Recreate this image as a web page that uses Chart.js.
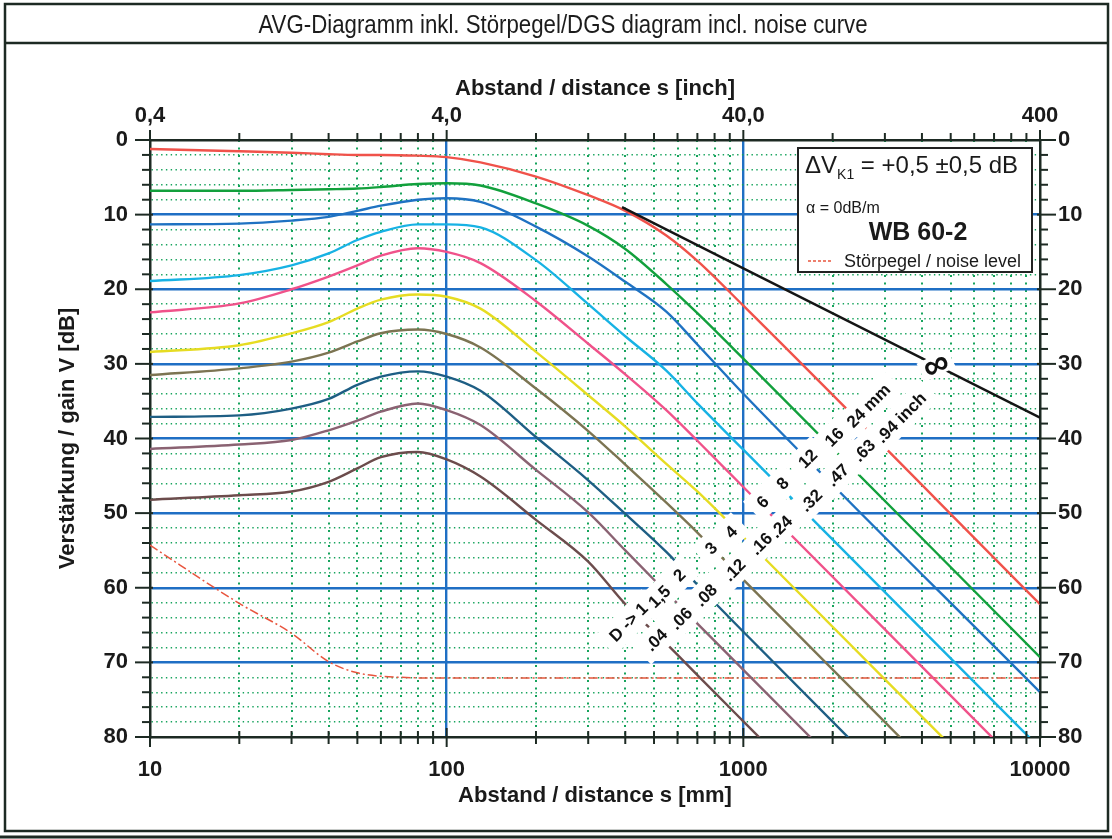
<!DOCTYPE html>
<html>
<head>
<meta charset="utf-8">
<title>AVG-Diagramm WB 60-2</title>
<script src="https://cdn.jsdelivr.net/npm/chart.js@4.4.1/dist/chart.umd.min.js"></script>
<style>
  html, body { margin: 0; padding: 0; background: #fff; }
  #wrap { width: 1112px; height: 839px; }
</style>
</head>
<body>
<div id="wrap"><canvas id="dgsChart" width="1112" height="839"></canvas></div>
<script>
const distances = [10, 20, 30, 40, 50, 60, 80, 100, 130, 200, 300, 400, 550, 700, 1000, 10000];

// gain V [dB] for each disc reflector diameter D
const gainD24 = [1.2, 1.5, 1.7, 1.9, 2.0, 2.0, 2.1, 2.3, 3.0, 4.9, 7.4, 9.5, 12.8, 16.2, 22.2, 62.2];
const gainD16 = [6.8, 6.8, 6.7, 6.6, 6.5, 6.3, 5.9, 5.8, 6.1, 8.5, 11.5, 14.6, 19.3, 23.2, 29.3, 69.3];
const gainD12 = [11.3, 11.2, 10.8, 10.3, 9.5, 8.8, 8.0, 7.8, 8.3, 11.6, 15.6, 19.0, 23.0, 27.4, 34.0, 74.0];
const gainD8 = [18.9, 18.1, 16.8, 15.2, 13.4, 12.3, 11.3, 11.3, 11.7, 16.1, 22.0, 26.3, 30.9, 35.3, 41.5, 81.5];
const gainD6 = [23.1, 21.9, 20.0, 18.3, 16.8, 15.5, 14.5, 15.0, 16.5, 21.6, 27.3, 31.4, 36.2, 40.3, 46.5, 86.5];
const gainD4 = [28.4, 27.5, 25.9, 24.4, 22.6, 21.4, 20.7, 21.0, 22.6, 28.4, 34.2, 38.4, 43.4, 47.1, 53.2, 93.2];
const gainD3 = [31.5, 30.6, 29.7, 28.5, 27.0, 25.9, 25.4, 26.0, 27.8, 33.3, 39.0, 43.5, 48.6, 52.6, 58.9, 98.9];
const gainD2 = [37.1, 36.9, 36.0, 34.7, 32.8, 31.7, 31.0, 31.7, 33.6, 39.8, 45.6, 50.1, 55.2, 59.6, 65.9, 105.9];
const gainD1_5 = [41.4, 40.8, 40.2, 38.9, 37.6, 36.4, 35.3, 36.2, 38.2, 44.2, 49.9, 55.0, 60.6, 64.8, 71.0, 111.0];
const gainD1 = [48.2, 47.6, 47.1, 45.8, 44.0, 42.5, 41.8, 42.8, 45.1, 50.9, 56.5, 62.2, 67.5, 71.7, 77.9, 117.9];

// back wall echo (D = infinity)
const backwallDist = [390, 1000, 10000];
const backwallGain = [9.0, 17.2, 37.2];

// noise level
const noiseDist = [10, 20, 30, 40, 50, 70, 100, 10000];
const noiseGain = [54.3, 62.1, 66.1, 69.9, 71.4, 72.0, 72.1, 72.1];

// axes
const mmLabelTicks = [10, 100, 1000, 10000];
const inchTickLabels = ["0,4", "4,0", "40,0", "400"];
const gainLabelTicks = [0, 10, 20, 30, 40, 50, 60, 70, 80];

// curve labels (text, anchor distance mm, anchor gain dB)
const diaMmText = ["D -> 1", "1,5", "2", "3", "4", "6", "8", "12", "16", "24 mm"];
const diaMmDist = [410, 521, 609, 778, 909, 1161, 1356, 1647, 2025, 2640];
const diaMmGain = [64.6, 61.2, 58.3, 54.7, 52.5, 48.5, 46.0, 42.7, 39.8, 35.6];
const diaInchText = [".04", ".06", ".08", ".12", ".16", ".24", ".32", ".47", ".63", ".94 inch"];
const diaInchDist = [508, 617, 748, 933, 1148, 1340, 1690, 2080, 2553, 3400];
const diaInchGain = [67.0, 64.1, 61.0, 57.6, 54.1, 51.8, 48.3, 44.9, 41.6, 37.2];
const infinityAt = [4467, 30.2];

const curveColors = ["#f0524a", "#12a03c", "#1f72c2", "#17b2e4", "#f0528a", "#e6dc22", "#7c7452", "#1e5e84", "#8a6272", "#6c4c4c"];
const curveGains = [gainD24, gainD16, gainD12, gainD8, gainD6, gainD4, gainD3, gainD2, gainD1_5, gainD1];
const curveNames = ["24", "16", "12", "8", "6", "4", "3", "2", "1,5", "1"];

const axisColor = "#1d2a23";
const majorBlue = "#1f6fc4";
const minorGreen = "#16a35c";
const tickFont = { family: "Arial", size: 22, weight: "bold" };
const axisTitleFont = { family: "Arial", size: 22, weight: "bold" };

let mmTicks = [];
[10, 100, 1000].forEach(function (d) {
  for (let k = 1; k < 10; k++) mmTicks.push(k * d);
});
mmTicks.push(10000);
let gainTicks = [];
for (let v = 0; v <= 80; v += 2) gainTicks.push(v);

function isDecade(v) {
  return mmLabelTicks.indexOf(v) !== -1;
}

// Frame and title
const framePlugin = {
  id: "frame",
  beforeDraw: function (chart) {
    const c = chart.ctx;
    c.save();
    c.fillStyle = "#fff";
    c.fillRect(0, 0, chart.width, chart.height);
    c.strokeStyle = axisColor;
    c.lineWidth = 2.5;
    c.strokeRect(5, 4, chart.width - 9, chart.height - 12);
    c.beginPath();
    c.moveTo(5, 43);
    c.lineTo(chart.width - 4, 43);
    c.stroke();
    c.lineWidth = 3;
    c.beginPath();
    c.moveTo(0, chart.height - 2);
    c.lineTo(chart.width, chart.height - 2);
    c.stroke();
    // condensed title
    c.fillStyle = "#1c1c1c";
    c.font = "25px Arial";
    c.textAlign = "center";
    c.textBaseline = "middle";
    c.translate(563, 26);
    c.scale(0.89, 1);
    c.fillText("AVG-Diagramm inkl. Störpegel/DGS diagram incl. noise curve", 0, 0);
    c.restore();
  },
};

// Tick marks on all four axes
const tickMarksPlugin = {
  id: "tickMarks",
  afterDraw: function (chart) {
    const ctx = chart.ctx;
    const a = chart.chartArea;
    const sx = chart.scales.x;
    const sy = chart.scales.y;
    ctx.save();
    ctx.strokeStyle = axisColor;
    ctx.lineWidth = 2;
    function seg(x1, y1, x2, y2) {
      ctx.beginPath();
      ctx.moveTo(x1, y1);
      ctx.lineTo(x2, y2);
      ctx.stroke();
    }
    gainTicks.forEach(function (v) {
      const y = sy.getPixelForValue(v);
      const major = v % 10 === 0;
      seg(a.left - (major ? 15 : 8), y, a.left + (major ? 3 : 1), y);
      seg(a.right - (major ? 3 : 1), y, a.right + (major ? 16 : 8), y);
    });
    mmTicks.forEach(function (v) {
      const x = sx.getPixelForValue(v);
      const major = isDecade(v);
      seg(x, a.bottom - (major ? 9 : 6), x, a.bottom + (major ? 10 : 7));
      seg(x, a.top - (major ? 10 : 7), x, a.top + 1);
    });
    ctx.restore();
  },
};

// Diameter labels on white ground, infinity mark and info box
const labelsPlugin = {
  id: "labels",
  afterDatasetsDraw: function (chart) {
    const ctx = chart.ctx;
    const sx = chart.scales.x;
    const sy = chart.scales.y;
    const a = chart.chartArea;
    const items = [];
    diaMmText.forEach(function (t, i) {
      items.push([t, diaMmDist[i], diaMmGain[i]]);
    });
    diaInchText.forEach(function (t, i) {
      items.push([t, diaInchDist[i], diaInchGain[i]]);
    });
    ctx.save();
    ctx.font = "bold 17px Arial";
    // white ground first
    items.forEach(function (it) {
      const w = ctx.measureText(it[0]).width;
      ctx.save();
      ctx.translate(sx.getPixelForValue(it[1]), sy.getPixelForValue(it[2]));
      ctx.rotate(-Math.PI / 4);
      ctx.fillStyle = "#fff";
      ctx.fillRect(-w / 2 - 9, -14, w + 18, 28);
      ctx.restore();
    });
    items.forEach(function (it) {
      ctx.save();
      ctx.translate(sx.getPixelForValue(it[1]), sy.getPixelForValue(it[2]));
      ctx.rotate(-Math.PI / 4);
      ctx.fillStyle = "#111";
      ctx.textAlign = "center";
      ctx.textBaseline = "middle";
      ctx.fillText(it[0], 0, 1);
      ctx.restore();
    });

    // infinity on the back wall line
    ctx.save();
    ctx.translate(sx.getPixelForValue(infinityAt[0]), sy.getPixelForValue(infinityAt[1]));
    ctx.rotate(-0.45);
    ctx.fillStyle = "#fff";
    ctx.fillRect(-17, -10, 34, 20);
    ctx.fillStyle = "#111";
    ctx.font = "bold 36px Arial";
    ctx.textAlign = "center";
    ctx.textBaseline = "middle";
    ctx.fillText("\u221E", 0, 1);
    ctx.restore();

    // info box
    const bw = 234, bh = 124;
    const bx = a.right - 8 - bw, by = a.top + 8;
    ctx.fillStyle = "#fff";
    ctx.fillRect(bx, by, bw, bh);
    ctx.strokeStyle = "#222";
    ctx.lineWidth = 2;
    ctx.strokeRect(bx, by, bw, bh);
    ctx.fillStyle = "#1a1a1a";
    ctx.textAlign = "left";
    ctx.textBaseline = "alphabetic";
    ctx.font = "24px Arial";
    ctx.fillText("\u0394V", bx + 7, by + 25);
    let cx = bx + 7 + ctx.measureText("\u0394V").width;
    ctx.font = "14px Arial";
    ctx.fillText("K1", cx, by + 31);
    cx += ctx.measureText("K1").width;
    ctx.font = "24px Arial";
    ctx.fillText(" = +0,5 \u00B10,5 dB", cx, by + 25);
    ctx.font = "16px Arial";
    ctx.fillText("\u03B1 = 0dB/m", bx + 8, by + 65);
    ctx.font = "bold 25px Arial";
    ctx.textAlign = "center";
    ctx.fillText("WB 60-2", bx + 120, by + 92);
    ctx.textAlign = "left";
    ctx.font = "18px Arial";
    ctx.fillText("Störpegel / noise level", bx + 46, by + 119);
    ctx.strokeStyle = "#e8553e";
    ctx.lineWidth = 1.4;
    ctx.setLineDash([3, 2]);
    ctx.beginPath();
    ctx.moveTo(bx + 10, by + 113);
    ctx.lineTo(bx + 34, by + 113);
    ctx.stroke();
    ctx.restore();
  },
};

function toPoints(xs, ys) {
  return xs.map(function (x, i) {
    return { x: x, y: ys[i] };
  });
}

const datasets = [
  {
    label: "\u221E",
    data: toPoints(backwallDist, backwallGain),
    borderColor: "#151515",
    borderWidth: 2.4,
    tension: 0,
  },
];
curveGains.forEach(function (g, i) {
  datasets.push({
    label: "D " + curveNames[i] + " mm",
    data: toPoints(distances, g),
    borderColor: curveColors[i],
    borderWidth: 2.4,
    cubicInterpolationMode: "monotone",
  });
});
datasets.push({
  label: "Störpegel / noise level",
  data: toPoints(noiseDist, noiseGain),
  borderColor: "#e8553e",
  borderWidth: 1.5,
  borderDash: [9, 3, 2, 3],
  cubicInterpolationMode: "monotone",
});

const ctx = document.getElementById("dgsChart").getContext("2d");
const dgsChart = new Chart(ctx, {
  type: "line",
  data: { datasets: datasets },
  plugins: [framePlugin, tickMarksPlugin, labelsPlugin],
  options: {
    responsive: false,
    animation: false,
    layout: { padding: { top: 50, left: 5, right: 5, bottom: 8 } },
    elements: { point: { radius: 0 } },
    plugins: {
      legend: { display: false },
      tooltip: { enabled: false },
      title: { display: false },
    },
    scales: {
      x: {
        type: "logarithmic",
        position: "bottom",
        min: 10,
        max: 10000,
        afterBuildTicks: function (s) {
          s.ticks = mmTicks.map(function (v) { return { value: v }; });
        },
        afterFit: function (s) { s.height = 94; },
        ticks: {
          autoSkip: false,
          maxRotation: 0,
          padding: 20,
          color: "#1a1a1a",
          font: tickFont,
          callback: function (v) { return isDecade(v) ? String(v) : ""; },
        },
        grid: {
          drawTicks: false,
          color: function (c) {
            const v = c.tick.value;
            if (v === 10 || v === 10000) return "rgba(0,0,0,0)";
            return isDecade(v) ? majorBlue : minorGreen;
          },
          lineWidth: function (c) { return isDecade(c.tick.value) ? 2.4 : 2; },
        },
        border: {
          color: axisColor,
          width: 2.5,
          dash: function (c) {
            return c.tick && !isDecade(c.tick.value) ? [2, 5.5] : [];
          },
        },
        title: {
          display: true,
          text: "Abstand / distance s [mm]",
          color: "#1a1a1a",
          font: axisTitleFont,
          padding: { top: 0, bottom: 22 },
        },
      },
      x2: {
        type: "logarithmic",
        position: "top",
        min: 10,
        max: 10000,
        afterBuildTicks: function (s) {
          s.ticks = mmTicks.map(function (v) { return { value: v }; });
        },
        afterFit: function (s) { s.height = 90; },
        ticks: {
          autoSkip: false,
          maxRotation: 0,
          padding: 11,
          color: "#1a1a1a",
          font: tickFont,
          callback: function (v) {
            const i = mmLabelTicks.indexOf(v);
            return i === -1 ? "" : inchTickLabels[i];
          },
        },
        grid: { display: false, drawTicks: false },
        border: { color: axisColor, width: 2.5 },
        title: {
          display: true,
          text: "Abstand / distance s [inch]",
          color: "#1a1a1a",
          font: axisTitleFont,
          padding: { top: 26, bottom: 0 },
        },
      },
      y: {
        type: "linear",
        position: "left",
        reverse: true,
        min: 0,
        max: 80,
        afterBuildTicks: function (s) {
          s.ticks = gainTicks.map(function (v) { return { value: v }; });
        },
        afterFit: function (s) { s.width = 145; },
        ticks: {
          autoSkip: false,
          padding: 22,
          color: "#1a1a1a",
          font: tickFont,
          callback: function (v) { return gainLabelTicks.indexOf(v) !== -1 ? String(v) : ""; },
        },
        grid: {
          drawTicks: false,
          color: function (c) {
            const v = c.tick.value;
            if (v === 0 || v === 80) return "rgba(0,0,0,0)";
            return v % 10 === 0 ? majorBlue : minorGreen;
          },
          lineWidth: function (c) { return c.tick.value % 10 === 0 ? 2.4 : 1.4; },
        },
        border: {
          color: axisColor,
          width: 2.5,
          dash: function (c) {
            return c.tick && c.tick.value % 10 !== 0 ? [1.4, 3.4] : [];
          },
        },
        title: {
          display: true,
          text: "Verstärkung / gain V [dB]",
          color: "#1a1a1a",
          font: axisTitleFont,
          padding: { top: 50, bottom: 0 },
        },
      },
      y2: {
        type: "linear",
        position: "right",
        reverse: true,
        min: 0,
        max: 80,
        afterBuildTicks: function (s) {
          s.ticks = gainTicks.map(function (v) { return { value: v }; });
        },
        afterFit: function (s) { s.width = 67; },
        ticks: {
          autoSkip: false,
          padding: 18,
          color: "#1a1a1a",
          font: tickFont,
          callback: function (v) { return gainLabelTicks.indexOf(v) !== -1 ? String(v) : ""; },
        },
        grid: { display: false, drawTicks: false },
        border: { color: axisColor, width: 2.5 },
      },
    },
  },
});
</script>
</body>
</html>
